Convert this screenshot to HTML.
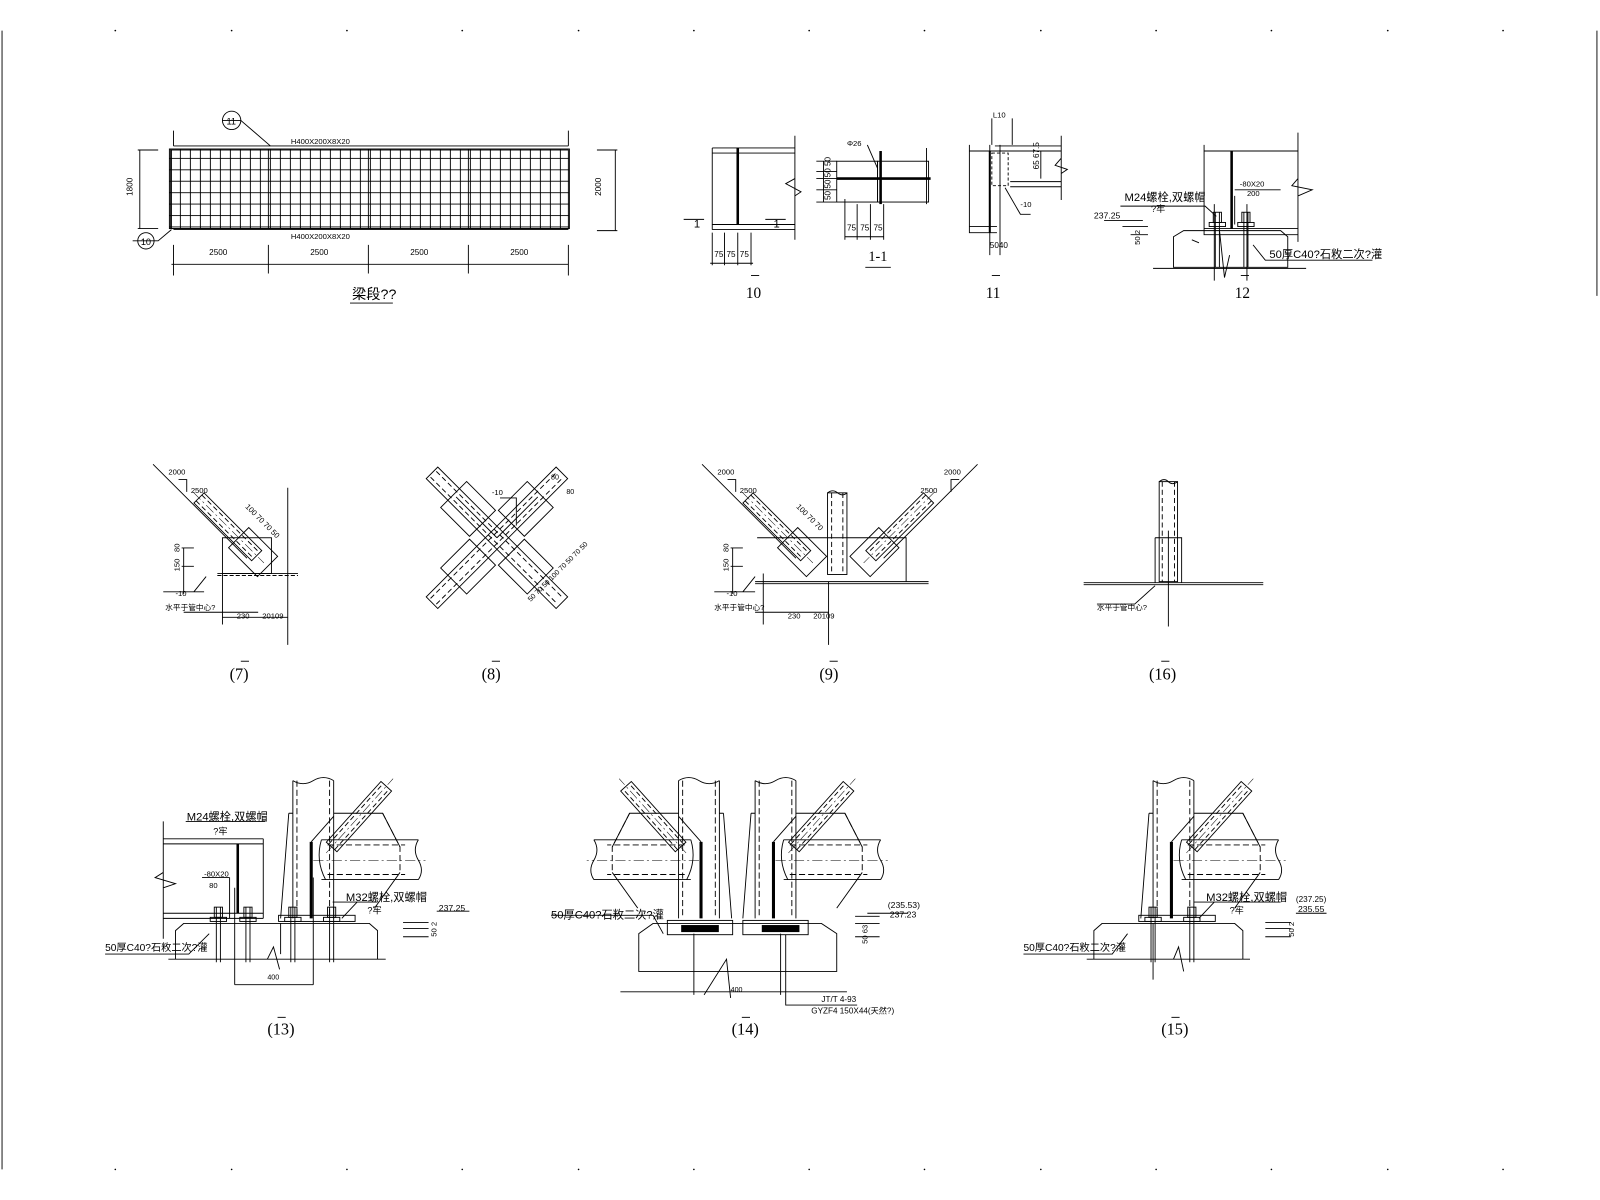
<!DOCTYPE html>
<html><head><meta charset="utf-8"><style>
html,body{margin:0;padding:0;background:#fff;width:1600px;height:1200px;overflow:hidden}
svg{display:block}
text{font-family:"Liberation Sans","Noto Sans CJK SC",sans-serif;fill:#000}
.s{font-family:"Liberation Serif","Noto Serif CJK SC",serif}
</style></head><body>
<svg width="1600" height="1200" viewBox="0 0 1568 1176" xmlns="http://www.w3.org/2000/svg" stroke="#000" fill="none" stroke-width="0.9">
<defs>
<pattern id="grid" x="166" y="146" width="9.8" height="11.2" patternUnits="userSpaceOnUse">
<path d="M1 0V11.2M0 9.2H9.8" stroke="#000" stroke-width="0.9"/>
</pattern>
<g id="dpipe">
<rect x="0" y="-7" width="80" height="14"/>
<path d="M0 -4H78M0 4H78" stroke-dasharray="5 3"/>
<path d="M-8 0H90" stroke-dasharray="10 3 2 3" stroke-width="0.5"/>
</g>
<g id="node">
<path d="M0 -135V0M40 -135V0"/>
<path d="M4 -135V0M36 -135V0" stroke-dasharray="6 3"/>
<path d="M0 -135q10 6 20 0t20 0"/>
<path d="M-4 -103L-12 0M-4 -103H0"/>
<path d="M40 -103H88L105 -70M105 -45L80 -10" />
<path d="M88 -103L105 -70V-45" stroke-dasharray="6 3"/>
<path d="M28 -77H123M28 -38H123"/>
<path d="M123 -77q-6 10 0 20q6 10 0 19"/>
<path d="M28 -77q-6 20 4 39"/>
<path d="M20 -57H130" stroke-dasharray="10 3 2 3" stroke-width="0.5"/>
<path d="M34 -72H110M34 -43H110" stroke-dasharray="6 3"/>
<g transform="translate(38 -70) rotate(-48)"><use href="#dpipe"/></g>
<path d="M18 -75V0" stroke-width="3"/>
<path d="M18 -75L40 -100"/>
</g>
<g id="bolt">
<rect x="-4" y="-14" width="8" height="10"/>
<rect x="-8" y="-4" width="16" height="4"/>
<path d="M-2 -14V40M2 -14V40"/>
</g>
</defs>

<path d="M2 30V1146M1565 30V290"/>
<g fill="#000" stroke="none">
<circle cx="113" cy="30" r="0.8"/><circle cx="227" cy="30" r="0.8"/><circle cx="340" cy="30" r="0.8"/><circle cx="453" cy="30" r="0.8"/><circle cx="567" cy="30" r="0.8"/><circle cx="680" cy="30" r="0.8"/><circle cx="793" cy="30" r="0.8"/><circle cx="906" cy="30" r="0.8"/><circle cx="1020" cy="30" r="0.8"/><circle cx="1133" cy="30" r="0.8"/><circle cx="1246" cy="30" r="0.8"/><circle cx="1360" cy="30" r="0.8"/><circle cx="1473" cy="30" r="0.8"/>
<circle cx="113" cy="1146" r="0.8"/><circle cx="227" cy="1146" r="0.8"/><circle cx="340" cy="1146" r="0.8"/><circle cx="453" cy="1146" r="0.8"/><circle cx="567" cy="1146" r="0.8"/><circle cx="680" cy="1146" r="0.8"/><circle cx="793" cy="1146" r="0.8"/><circle cx="906" cy="1146" r="0.8"/><circle cx="1020" cy="1146" r="0.8"/><circle cx="1133" cy="1146" r="0.8"/><circle cx="1246" cy="1146" r="0.8"/><circle cx="1360" cy="1146" r="0.8"/><circle cx="1473" cy="1146" r="0.8"/>
</g>

<rect x="166" y="146" width="392" height="78" fill="url(#grid)"/>
<rect x="168" y="147" width="389" height="77"/>
<path d="M170 143H557M170 225H557M263 146V224M361 146V224M459 146V224" stroke-width="0.9"/>
<path d="M170 128V143M557 128V143M170 240V270M557 240V270M263 240V268M361 240V268M459 240V268M168 259H557"/>
<path d="M135 147H155M135 224H155M137 147V224M585 147H605M585 226H605M603 147V226"/>
<text x="285" y="141" font-size="7.5" stroke="none">H400X200X8X20</text>
<text x="285" y="234" font-size="7.5" stroke="none">H400X200X8X20</text>
<text x="205" y="250" font-size="8" stroke="none">2500</text><text x="304" y="250" font-size="8" stroke="none">2500</text><text x="402" y="250" font-size="8" stroke="none">2500</text><text x="500" y="250" font-size="8" stroke="none">2500</text>
<text transform="translate(130 192) rotate(-90)" font-size="8" stroke="none">1800</text>
<text transform="translate(589 192) rotate(-90)" font-size="8" stroke="none">2000</text>
<circle cx="227" cy="118" r="9"/><text x="222" y="122" font-size="9" stroke="none">11</text>
<path d="M218 118H236L265 143"/>
<circle cx="143" cy="236" r="8"/><text x="138" y="240" font-size="9" stroke="none">10</text>
<path d="M130 236H155L168 225"/>
<text x="345" y="293" font-size="14" stroke="none">梁段??</text>
<path d="M343 297H385"/>

<path d="M698 145H779M698 150H779M698 225H779M698 220H779M698 145V225M779 133V235"/>
<path d="M723 145V220" stroke-width="2.5"/>
<path d="M779 175L770 180L785 188L779 192"/>
<path d="M670 215H690M750 215H770M698 228V260M710 228V260M723 228V260M736 228V260M696 258H738"/>
<text x="680" y="223" font-size="11" stroke="none">1</text><text x="758" y="223" font-size="11" stroke="none">1</text>
<text x="700" y="252" font-size="8" stroke="none">75</text><text x="712" y="252" font-size="8" stroke="none">75</text><text x="725" y="252" font-size="8" stroke="none">75</text>
<path d="M736 270H744"/><text x="731" y="292" font-size="15" stroke="none" class="s" style="font-family:'Liberation Serif',serif">10</text>

<rect x="820" y="158" width="40" height="40"/><rect x="860" y="158" width="50" height="40"/>
<path d="M820 175H912" stroke-width="2.5"/><path d="M863 148V200" stroke-width="2.5"/>
<path d="M800 158H820M800 168H820M800 175H820M800 186H820M800 198H820M807 158V198M828 195V235M840 200V235M853 200V235M866 200V235M828 232H866M908 145V200M850 142L860 165"/>
<text x="830" y="143" font-size="7.5" stroke="none">Φ26</text>
<text transform="translate(814 196) rotate(-90)" font-size="8" stroke="none">50 50 50 50</text>
<text x="830" y="226" font-size="8" stroke="none">75</text><text x="843" y="226" font-size="8" stroke="none">75</text><text x="856" y="226" font-size="8" stroke="none">75</text>
<text x="851" y="256" font-size="14" stroke="none" style="font-family:'Liberation Serif',serif">1-1</text><path d="M848 262H873"/>

<path d="M950 142V228H977M950 148H977M950 222H977M970 142V250M980 142V250M972 116V142M992 116V142"/>
<path d="M970 148V228" stroke-width="2"/>
<path d="M975 148H1040M975 143H1040M990 183H1040M990 178H1040M1040 133V196M1040 155L1034 162L1046 166L1040 170"/>
<rect x="972" y="150" width="16" height="32" stroke-dasharray="3 2"/>
<path d="M985 184L1000 210H1010M1020 148V175"/>
<text x="973" y="115" font-size="7.5" stroke="none">L10</text><text x="1000" y="203" font-size="7.5" stroke="none">-10</text>
<text transform="translate(1018 166) rotate(-90)" font-size="8" stroke="none">65 67.5</text>
<text x="970" y="243" font-size="8" stroke="none">5040</text>
<path d="M972 270H980"/><text x="966" y="292" font-size="15" stroke="none" style="font-family:'Liberation Serif',serif">11</text>

<path d="M1180 142V230H1272M1180 148H1272M1180 224H1272M1272 130V237M1272 175L1266 182L1286 186L1272 192"/>
<path d="M1207 148V224" stroke-width="2.5"/>
<path d="M1150 232L1160 226H1255L1262 232V262H1150Z"/>
<path d="M1130 263H1280M1190 200V275M1222 200V275M1195 225L1200 272L1205 250M1168 235L1175 238"/>
<use href="#bolt" x="1193" y="222"/><use href="#bolt" x="1221" y="222"/>
<path d="M1098 202H1181L1192 212M1210 186H1255M1210 192V220M1228 240L1240 255H1345M1082 216H1120M1100 222H1125M1108 230H1125"/>
<text x="1102" y="197" font-size="11" stroke="none">M24螺栓,双螺帽</text><text x="1128" y="208" font-size="9" stroke="none">?牢</text>
<text x="1215" y="183" font-size="7.5" stroke="none">-80X20</text><text x="1222" y="192" font-size="7.5" stroke="none">200</text>
<text x="1072" y="214" font-size="8.5" stroke="none">237.25</text>
<text transform="translate(1117 240) rotate(-90)" font-size="7.5" stroke="none">50 2</text>
<text x="1244" y="253" font-size="11" stroke="none">50厚C40?石敉二次?灌</text>
<path d="M1216 270H1224"/><text x="1210" y="292" font-size="15" stroke="none" style="font-family:'Liberation Serif',serif">12</text>

<path d="M150 455L242 547M175 470H183V482M213 562H292M282 478V632M218 562V612M218 605H282"/>
<rect x="218" y="527" width="48" height="35"/>
<g transform="translate(195 488) rotate(45)"><use href="#dpipe"/><rect x="55" y="-14" width="40" height="28"/></g>
<path d="M178 537H190M178 555H190M180 537V582M202 565L190 580M160 580H200M180 600H253"/>
<path d="M213 564H292" stroke-dasharray="4 2"/>
<text x="165" y="465" font-size="7.5" stroke="none">2000</text><text x="187" y="483" font-size="7.5" stroke="none">2500</text>
<text x="172" y="584" font-size="7.5" stroke="none">-10</text><text x="162" y="598" font-size="7.5" stroke="none">水平于管中心?</text>
<text x="232" y="606" font-size="7.5" stroke="none">230</text><text x="257" y="606" font-size="7.5" stroke="none">20109</text>
<text transform="translate(176 560) rotate(-90)" font-size="7.5" stroke="none">150</text><text transform="translate(176 541) rotate(-90)" font-size="7.5" stroke="none">80</text>
<text transform="translate(240 497) rotate(45)" font-size="7.5" stroke="none">100  70  70  50</text>
<path d="M236 648H244"/><text x="225" y="666" font-size="16" stroke="none" style="font-family:'Liberation Serif',serif">(7)</text>

<g transform="translate(487 527)">
<g transform="rotate(45)"><rect x="-90" y="-8" width="180" height="16"/><path d="M-88 -4H88M-88 4H88" stroke-dasharray="5 3"/><rect x="-60" y="-18" width="40" height="36"/><rect x="20" y="-18" width="40" height="36"/></g>
<g transform="rotate(-45)"><rect x="-90" y="-8" width="180" height="16"/><path d="M-88 -4H88M-88 4H88" stroke-dasharray="5 3"/><rect x="-60" y="-18" width="40" height="36"/><rect x="20" y="-18" width="40" height="36"/></g>
<path d="M-40 -40L0 0M40 -40L0 0" />
</g>
<path d="M490 488H506V515"/>
<text x="482" y="485" font-size="7.5" stroke="none">-10</text>
<text transform="translate(520 590) rotate(-45)" font-size="7" stroke="none">50 70 50 100 70 50 70 50</text>
<text x="540" y="470" font-size="7" stroke="none">80</text><text x="555" y="484" font-size="7" stroke="none">80</text>
<path d="M482 648H490"/><text x="472" y="666" font-size="16" stroke="none" style="font-family:'Liberation Serif',serif">(8)</text>

<path d="M688 455L780 547M713 470H721V482M958 455L866 547M940 470H932V482M740 570H910M740 572H910M742 527H888V570M812 570V632M748 562V612"/>
<g transform="translate(733 488) rotate(45)"><use href="#dpipe"/><rect x="55" y="-14" width="40" height="28"/></g>
<g transform="translate(910 488) rotate(135)"><use href="#dpipe"/><rect x="55" y="-14" width="40" height="28"/></g>
<rect x="811" y="483" width="19" height="80"/><path d="M815 483V563M826 483V563" stroke-dasharray="5 3"/><path d="M811 483q5 -4 10 0t9 0"/>
<path d="M716 537H728M716 555H728M718 537V582M740 565L728 580M700 580H740M740 600H812"/>
<text x="703" y="465" font-size="7.5" stroke="none">2000</text><text x="725" y="483" font-size="7.5" stroke="none">2500</text>
<text x="925" y="465" font-size="7.5" stroke="none">2000</text><text x="902" y="483" font-size="7.5" stroke="none">2500</text>
<text x="712" y="584" font-size="7.5" stroke="none">-10</text><text x="700" y="598" font-size="7.5" stroke="none">水平于管中心?</text>
<text x="772" y="606" font-size="7.5" stroke="none">230</text><text x="797" y="606" font-size="7.5" stroke="none">20109</text>
<text transform="translate(714 560) rotate(-90)" font-size="7.5" stroke="none">150</text><text transform="translate(714 541) rotate(-90)" font-size="7.5" stroke="none">80</text>
<text transform="translate(780 497) rotate(45)" font-size="7.5" stroke="none">100  70  70</text>
<path d="M813 648H821"/><text x="803" y="666" font-size="16" stroke="none" style="font-family:'Liberation Serif',serif">(9)</text>

<path d="M1062 571H1238M1062 573H1238M1132 527H1158V571M1132 527V571M1145 520V614M1132 574L1112 592H1075"/>
<rect x="1136" y="472" width="18" height="98"/><path d="M1139 472V570M1151 472V570" stroke-dasharray="5 3"/><path d="M1136 472q5 -4 9 0t9 0"/>
<text x="1075" y="598" font-size="7.5" stroke="none">水平于管中心?</text>
<path d="M1138 648H1146"/><text x="1126" y="666" font-size="16" stroke="none" style="font-family:'Liberation Serif',serif">(16)</text>

<use href="#node" x="287" y="900"/>
<path d="M160 822H258M160 827H258M160 895H258M160 900H258M258 822V900M160 805V920M160 855L152 860L172 866L160 870"/>
<path d="M233 827V895" stroke-width="2.5"/>
<path d="M172 912L180 905H362L370 912V940H172Z M165 940H378"/>
<path d="M230 870V965M275 905V935M230 965H307M307 860V965M262 940L268 928L274 950"/>
<use href="#bolt" x="214" y="903"/><use href="#bolt" x="243" y="903"/><use href="#bolt" x="287" y="903"/><use href="#bolt" x="325" y="903"/>
<rect x="273" y="897" width="75" height="6"/>
<path d="M182 805H260M198 860H225M225 860V900M103 935H185L205 915M326 884H370M350 884L335 900M395 904H420M395 910H420M395 918H420M428 893H460"/>
<text x="183" y="804" font-size="11" stroke="none">M24螺栓,双螺帽</text><text x="209" y="818" font-size="9" stroke="none">?牢</text>
<text x="200" y="859" font-size="7.5" stroke="none">-80X20</text><text x="205" y="870" font-size="7.5" stroke="none">80</text>
<text x="339" y="883" font-size="11" stroke="none">M32螺栓,双螺帽</text><text x="360" y="895" font-size="9" stroke="none">?牢</text>
<text x="103" y="932" font-size="10" stroke="none">50厚C40?石敉二次?灌</text>
<text x="430" y="893" font-size="8.5" stroke="none">237.25</text><text transform="translate(428 918) rotate(-90)" font-size="7.5" stroke="none">50 2</text>
<text x="262" y="960" font-size="7" stroke="none">400</text>
<path d="M272 997H280"/><text x="262" y="1014" font-size="16" stroke="none" style="font-family:'Liberation Serif',serif">(13)</text>

<use href="#node" transform="translate(665 900) scale(-1 1) translate(-40 0)"/>
<use href="#node" x="740" y="900"/>
<path d="M626 915L640 905H805L820 915V952H626ZM608 972H830M680 915V975M765 915V975M690 975L712 940L716 978M683 972H765"/>
<rect x="654" y="902" width="64" height="14"/><rect x="728" y="902" width="64" height="14"/>
<rect x="668" y="907" width="36" height="6" fill="#000"/><rect x="747" y="907" width="36" height="6" fill="#000"/>
<path d="M540 897H640L650 915M770 916V985H840M850 895H890M838 898H862M838 905H862M838 918H862"/>
<text x="540" y="900" font-size="11" stroke="none">50厚C40?石敉二次?灌</text>
<text x="870" y="890" font-size="8.5" stroke="none">(235.53)</text><text x="872" y="899" font-size="8.5" stroke="none">237.23</text>
<text transform="translate(850 925) rotate(-90)" font-size="7.5" stroke="none">50 63</text>
<text x="716" y="972" font-size="7" stroke="none">400</text>
<text x="805" y="982" font-size="8" stroke="none">JT/T 4-93</text><text x="795" y="993" font-size="8" stroke="none">GYZF4 150X44(天然?)</text>
<path d="M727 997H735"/><text x="717" y="1014" font-size="16" stroke="none" style="font-family:'Liberation Serif',serif">(14)</text>

<use href="#node" x="1130" y="900"/>
<path d="M1072 912L1080 905H1210L1218 912V940H1072ZM1065 940H1225M1130 905V960M1150 940L1155 928L1160 952"/>
<use href="#bolt" x="1130" y="903"/><use href="#bolt" x="1168" y="903"/>
<rect x="1116" y="897" width="75" height="6"/>
<path d="M1003 935H1090L1105 915M1170 884H1255M1190 884L1175 900M1240 904H1265M1240 910H1265M1240 918H1265M1270 895H1300"/>
<text x="1182" y="883" font-size="11" stroke="none">M32螺栓,双螺帽</text><text x="1205" y="895" font-size="9" stroke="none">?牢</text>
<text x="1003" y="932" font-size="10" stroke="none">50厚C40?石敉二次?灌</text>
<text x="1270" y="884" font-size="8" stroke="none">(237.25)</text><text x="1272" y="894" font-size="8.5" stroke="none">235.55</text>
<text transform="translate(1268 918) rotate(-90)" font-size="7.5" stroke="none">50 2</text>
<path d="M1148 997H1156"/><text x="1138" y="1014" font-size="16" stroke="none" style="font-family:'Liberation Serif',serif">(15)</text>
</svg>
</body></html>
